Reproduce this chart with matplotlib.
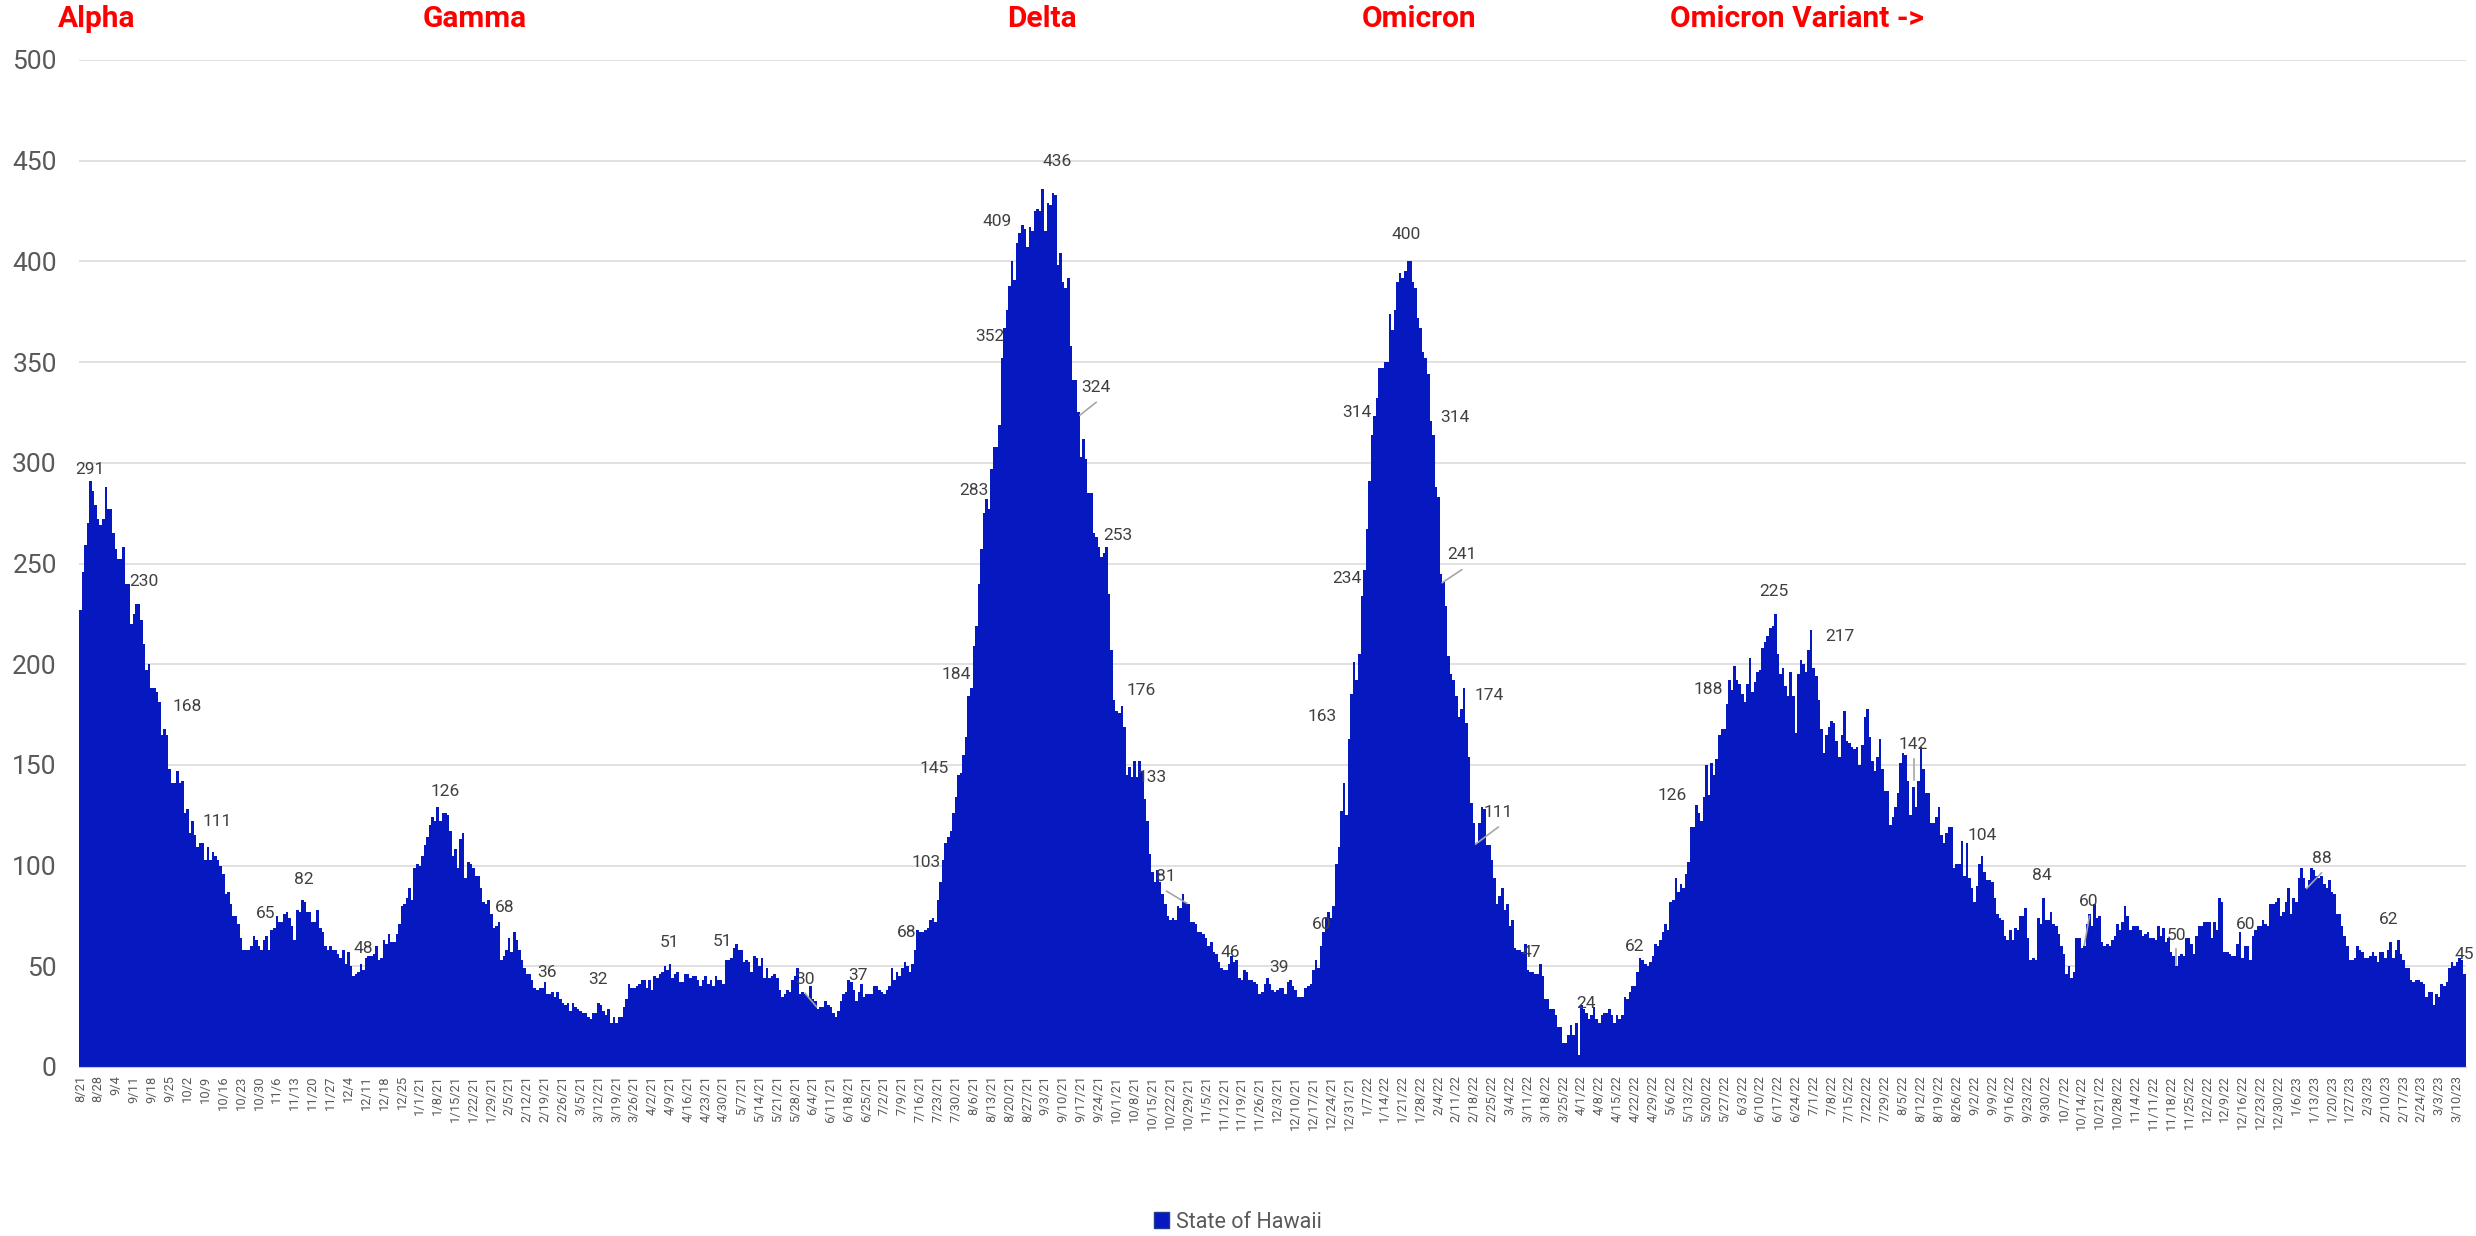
import numpy as np
import pandas as pd
import matplotlib
matplotlib.use("Agg")
import matplotlib.pyplot as plt
from matplotlib.patches import Patch

plt.rcParams["font.family"] = ["Roboto", "DejaVu Sans"]

# daily values, starting 8/21/20
alpha_wave = [227, 246, 259, 270, 291, 286, 279, 272, 269, 272, 288, 277, 277, 265, 257, 252, 252, 258, 240, 240,
              220, 225, 230, 230, 222, 210, 197, 200, 188, 188, 186, 181, 165, 168, 165, 148, 141, 141, 147, 141,
              142, 126, 128, 116, 122, 115, 109, 111, 111, 103, 109, 103, 107, 105, 103, 100, 96, 86, 87, 81,
              75, 75, 71, 64, 58, 58, 58, 60, 65, 63, 60, 58, 63, 65, 58, 68, 69, 75, 72, 72,
              76, 77, 74, 70, 63, 78, 77, 83, 82, 77, 77, 72, 72, 78, 69, 67, 60, 58, 60, 58,
              58, 56, 54, 58, 51, 57, 50, 45, 46, 47, 51, 48, 54, 55, 55, 56, 60, 53, 54, 63,
              61, 66, 62, 62, 66, 71, 80, 81, 84, 89, 83, 99, 101, 100, 105, 110, 114, 120, 124, 122,
              129, 122, 126, 126, 125, 117, 105, 108, 99]
gamma_wave = [113, 116, 94, 102, 101, 99, 95, 95, 89, 82, 81, 83, 76, 69, 70, 72, 53, 55, 58, 64,
              57, 67, 63, 58, 53, 49, 46, 46, 43, 39, 38, 39, 39, 42, 36, 36, 37, 35, 37, 34,
              32, 31, 32, 28, 32, 30, 29, 28, 27, 27, 25, 24, 27, 27, 32, 31, 28, 26, 29, 22,
              25, 22, 25, 25, 30, 34, 41, 39, 39, 40, 41, 43, 43, 39, 43, 38, 45, 44, 46, 47,
              50, 48, 51, 44, 46, 47, 42, 42, 46, 46, 44, 45, 45, 43, 40, 43, 45, 41, 43, 40,
              45, 43, 43, 41, 53, 53, 54, 59, 61, 58, 58, 52, 53, 52, 47, 55, 54, 50, 54, 44,
              49, 44, 45, 46, 44, 38, 35, 36, 38, 37, 43, 45, 49, 36, 37, 36, 35, 40, 34, 33,
              29, 30, 30, 33, 31, 30, 27, 25, 28, 33, 36, 37, 43]
delta_wave = [42, 38, 33, 37, 41, 35, 36, 36, 36, 40, 40, 38, 37, 36, 38, 40, 49, 43, 47, 45,
              49, 52, 50, 47, 51, 58, 68, 67, 67, 68, 69, 73, 74, 72, 83, 92, 103, 111, 114, 117,
              126, 134, 145, 146, 155, 164, 184, 188, 209, 219, 240, 257, 275, 282, 277, 297, 308, 308, 319, 352,
              367, 376, 388, 400, 391, 409, 414, 418, 416, 407, 417, 415, 425, 426, 425, 436, 415, 429, 428, 434,
              433, 398, 404, 390, 387, 392, 358, 341, 341, 325, 303, 312, 302, 285, 285, 265, 263, 258, 253, 255,
              258, 235, 207, 182, 177, 176, 179, 169, 145, 149, 144, 152, 144, 152, 147, 133, 122, 106, 97, 92,
              98, 92, 86, 81, 75, 73, 74, 73, 80, 79, 86, 82, 81, 72, 72, 71, 67, 67, 66, 64,
              60, 62, 57, 56, 52, 49, 48, 48, 51, 55, 52, 53, 44, 43, 48, 47]
omicron_wave = [43, 43, 42, 41, 36, 37, 41, 44, 41, 38, 37, 38, 39, 39, 36, 42, 43, 40, 38, 35,
                35, 35, 39, 40, 41, 48, 53, 49, 60, 67, 74, 77, 74, 80, 101, 109, 127, 141, 125, 163,
                185, 201, 192, 205, 234, 247, 267, 291, 314, 323, 332, 347, 347, 350, 350, 374, 366, 376, 390, 394,
                392, 395, 400, 400, 390, 387, 372, 367, 355, 352, 344, 321, 314, 288, 283, 245, 241, 229, 204, 195,
                192, 184, 174, 178, 188, 171, 154, 131, 121, 111, 121, 129, 128, 110, 110, 103, 94, 81, 85, 89,
                78, 81, 70, 73, 59, 58, 58, 57, 61, 48, 47, 47, 46, 46, 51, 45, 34, 34, 29, 29,
                26, 20, 20, 12, 12, 16, 21, 16, 22, 6, 31, 29, 27, 24, 26, 30, 24, 22, 26, 27,
                27, 29, 26, 22, 26, 24, 26, 35, 34, 37, 40, 40, 47, 54, 53, 51, 50]
variant_wave = [52, 55, 61, 60, 63, 67, 71, 68, 82, 83, 94, 87, 91, 89, 96, 102, 119, 119, 130, 126,
                122, 134, 150, 135, 151, 145, 153, 165, 168, 168, 180, 192, 187, 199, 192, 190, 185, 181, 190, 203,
                186, 191, 196, 197, 208, 211, 214, 218, 219, 225, 205, 195, 198, 189, 184, 196, 184, 166, 195, 202,
                200, 196, 207, 217, 198, 194, 182, 168, 156, 165, 169, 172, 171, 162, 154, 165, 177, 162, 161, 159,
                158, 159, 150, 160, 174, 178, 164, 152, 147, 154, 163, 148, 137, 137, 120, 124, 129, 136, 151, 156,
                155, 142, 125, 139, 129, 142, 159, 148, 136, 136, 121, 121, 124, 129, 115, 111, 116, 119, 119, 99,
                101, 101, 112, 95, 111, 94, 89, 82, 90, 101, 105, 97, 93, 93, 92, 84, 76, 74, 73, 65,
                63, 68, 63, 69, 68, 75, 75, 79, 64, 53, 54, 53, 74, 71, 84, 73, 73]
late_wave = [77, 71, 70, 66, 60, 56, 46, 50, 44, 47, 64, 64, 59, 60, 71, 76, 70, 81, 74, 75,
             62, 60, 61, 60, 63, 65, 71, 68, 72, 80, 75, 68, 70, 70, 70, 68, 65, 66, 67, 64,
             64, 63, 70, 65, 69, 62, 64, 57, 55, 50, 55, 56, 55, 64, 64, 61, 56, 65, 70, 70,
             72, 72, 72, 64, 72, 68, 84, 82, 57, 57, 56, 55, 55, 61, 67, 54, 60, 60, 53, 65,
             68, 70, 70, 73, 71, 70, 81, 81, 82, 84, 75, 77, 82, 89, 76, 84, 82, 94, 99, 94,
             89, 93, 99, 98, 95, 94, 95, 91, 89, 93, 87, 86, 76, 76, 70, 65, 60, 53, 53, 54,
             60, 58, 57, 54, 54, 55, 57, 55, 52, 57, 57, 54, 58, 62, 54, 58, 63, 56, 53, 49,
             49, 43, 42, 43, 43, 42, 41, 35, 37, 37, 31, 36, 35, 41, 40, 42, 49, 52, 50, 52,
             54, 53, 46]

# data labels placed by hand in the original (day index, height)
label_text = ["291", "230", "168", "111", "65", "82", "48", "126", "68", "36", "32", "51", "51", "30",
              "37", "68", "103", "145", "184", "283", "352", "409", "436", "324", "253", "176", "133",
              "81", "46", "39", "60", "163", "234", "314", "400", "314", "241", "174", "111", "47",
              "24", "62", "126", "188", "225", "217", "142", "104", "84", "60", "50", "60", "88", "62", "45"]
label_x = [3.8, 25.0, 41.9, 53.8, 72.7, 87.7, 110.9, 142.9, 166.4, 182.7, 202.6, 230.6, 251.6, 283.9,
           304.8, 323.7, 331.5, 334.4, 343.0, 350.2, 356.3, 359.0, 382.5, 397.9, 406.4, 415.5, 419.7,
           425.3, 450.3, 469.5, 486.4, 486.4, 496.0, 500.0, 519.3, 538.5, 541.1, 551.7, 555.4, 568.5,
           589.8, 609.0, 623.7, 637.8, 663.2, 689.3, 718.0, 745.0, 768.3, 786.5, 821.2, 848.0, 877.9, 904.1, 933.7]
label_y = [296.6, 241.1, 179.1, 122.0, 76.2, 93.2, 59.0, 137.0, 79.2, 47.0, 43.2, 61.9, 62.2, 43.5,
           45.4, 66.8, 101.6, 148.0, 195.1, 286.2, 362.7, 419.9, 449.6, 337.4, 263.9, 187.0, 143.9,
           94.4, 56.7, 49.3, 70.8, 174.0, 242.4, 324.8, 413.5, 322.5, 254.4, 184.6, 126.5, 57.1,
           31.7, 59.6, 134.6, 187.4, 235.9, 213.6, 160.1, 115.0, 95.3, 82.0, 65.2, 71.0, 103.4, 73.3, 56.1]

# leader lines (x1, y1, x2, y2)
leaders = [(391.6, 323.7, 397.9, 330.0), (425.5, 87.3, 433.4, 81.3), (533.5, 240.5, 541.1, 246.9),
           (546.6, 110.7, 555.4, 119.1), (283.9, 36.6, 288.4, 29.9), (785.0, 60.5, 787.0, 74.9),
           (821.1, 50.6, 821.1, 58.4), (872.1, 88.7, 877.9, 96.4), (718.3, 142.4, 718.3, 152.7)]

variants = ["Alpha", "Gamma", "Delta", "Omicron", "Omicron Variant ->"]
variant_px = [58, 423, 1007, 1362, 1670]

BLUE = "#0619C0"
GREY = "#595959"

values = np.array(alpha_wave + gamma_wave + delta_wave + omicron_wave + variant_wave + late_wave)
dates = pd.date_range("2020-08-21", periods=len(values), freq="D")
x = np.arange(len(values))

W, H = 2476, 1236
fig = plt.figure(figsize=(W / 100, H / 100), dpi=100)
ax = fig.add_axes([79 / W, (H - 1067) / H, (2466 - 79) / W, (1067 - 60) / H])

ax.bar(x, values, width=1.0, color=BLUE, linewidth=0)
ax.set_xlim(-0.5, len(values) - 0.5)
ax.set_ylim(0, 500)
ax.set_yticks(range(0, 501, 50))
ax.yaxis.grid(True, color="#d9d9d9", lw=1.1)
ax.set_axisbelow(True)
for s in ["top", "right", "left"]:
    ax.spines[s].set_visible(False)
ax.spines["bottom"].set_color("#c8c8c8")
ax.tick_params(axis="y", length=0, pad=16, labelsize=19, labelcolor=GREY)


def fmt(d):
    if d.year == 2020:
        return f"{d.month}/{d.day}"
    return f"{d.month}/{d.day}/{d.year % 100}"


ax.set_xticks(x[::7])
ax.set_xticklabels([fmt(d) for d in dates[::7]], rotation=90, fontsize=9.3, color=GREY)
ax.tick_params(axis="x", length=0, pad=6)

for t, lx, ly in zip(label_text, label_x, label_y):
    ax.text(lx, ly, t, ha="center", va="center", fontsize=12.5, color="#404040", clip_on=False)
for x1, y1, x2, y2 in leaders:
    ax.plot([x1, x2], [y1, y2], color="#a6a6a6", lw=1.2)

for name, px in zip(variants, variant_px):
    fig.text(px / W, 1 - 19 / H, name, color="red", fontweight="bold", fontsize=21.5,
             family=["Liberation Sans Narrow", "Roboto"], ha="left", va="center")

fig.legend(handles=[Patch(facecolor=BLUE, edgecolor="#203a8f", label="State of Hawaii")],
           loc="center", bbox_to_anchor=(0.5, 1 - 1222 / H), frameon=False, fontsize=15.5,
           labelcolor=GREY, handlelength=0.7, handleheight=0.7, handletextpad=0.3)

fig.savefig("out.png", dpi=100)
